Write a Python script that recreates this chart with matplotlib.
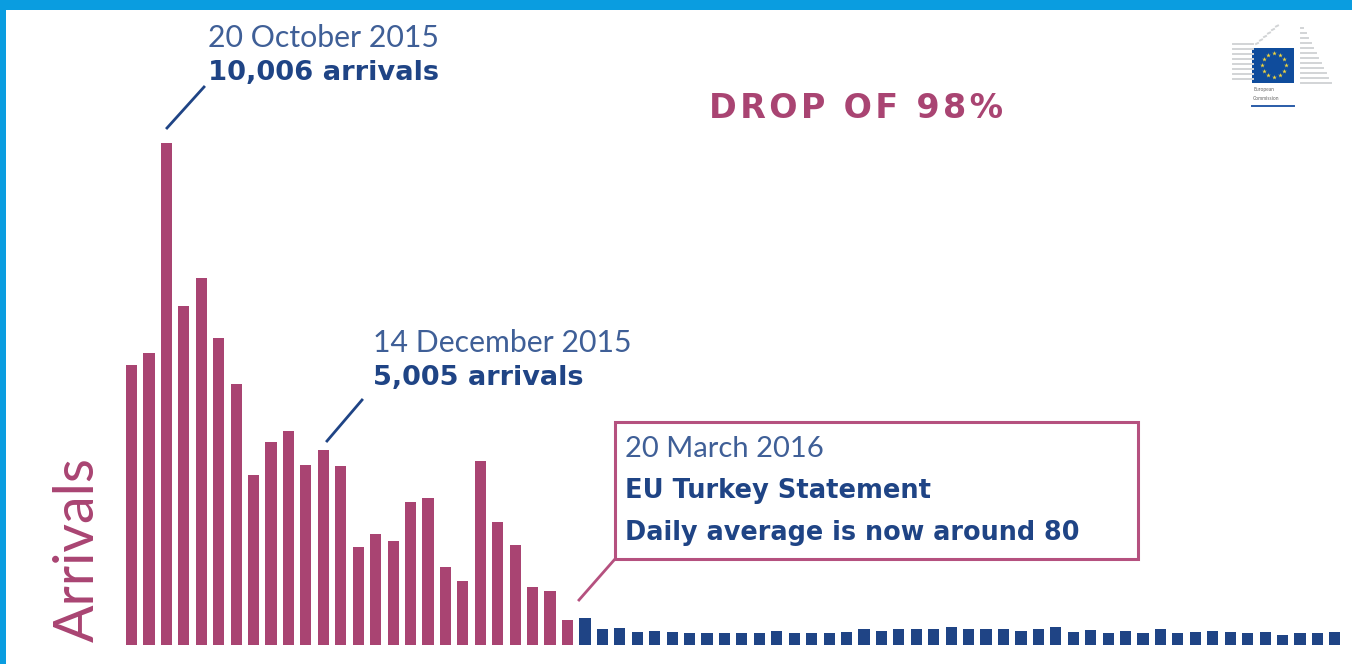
import matplotlib
matplotlib.use('Agg')
import matplotlib.pyplot as plt
from matplotlib.patches import Rectangle
import numpy as np

plt.rcParams['font.family'] = ['Lato', 'DejaVu Sans']

W, H = 1352, 664

# arrivals per week
before = [5590, 5830, 10006, 6750, 7320, 6120, 5210, 3390, 4050, 4270, 3590, 3880, 3570,
          1950, 2220, 2080, 2860, 2940, 1560, 1270, 3670, 2460, 2000, 1150, 1070, 500]
after = [540, 320, 340, 260, 280, 260, 240, 240, 240, 240, 240, 280, 240, 240, 240, 260, 320,
         280, 320, 320, 320, 360, 320, 320, 320, 280, 320, 360, 260, 300, 240, 280, 240, 320,
         240, 260, 280, 260, 240, 260, 200, 240, 240, 260]

pink = '#A94472'
blue = '#1F4485'
blue_light = '#3F5F97'
frame = '#0A9DE0'
bold_font = ['DejaVu Sans']

fig = plt.figure(figsize=(W / 100, H / 100), dpi=100, facecolor='white')


def px(x, y):
    # picture pixels to figure fraction
    return x / W, 1 - y / H


# frame
fig.add_artist(Rectangle((0, 1 - 10 / H), 1, 10 / H, transform=fig.transFigure, color=frame, lw=0))
fig.add_artist(Rectangle((0, 0), 6 / W, 1, transform=fig.transFigure, color=frame, lw=0))

# bars
step = 17.44
x0 = 131.5
left, right = 122, 1345
ax = fig.add_axes([left / W, 1 - 645 / H, (right - left) / W, 502 / H])
ax.set_xlim((left - x0) / step, (right - x0) / step)
ax.set_ylim(0, 10006)
ax.axis('off')
xs = np.arange(len(before) + len(after))
ax.bar(xs[:len(before)], before, width=0.64, color=pink)
ax.bar(xs[len(before):], after, width=0.64, color=blue)


def label(x, y, s, **kw):
    fx, fy = px(x, y)
    fig.text(fx, fy, s, va='center', ha='left', **kw)


def leader(x1, y1, x2, y2, color, lw=2):
    a, b = px(x1, y1), px(x2, y2)
    fig.add_artist(plt.Line2D([a[0], b[0]], [a[1], b[1]], color=color, lw=lw))


label(208, 38, '20 October 2015', fontsize=21.8, color=blue_light)
label(208, 73, '10,006 arrivals', fontsize=19.7, color=blue, fontweight='bold', family=bold_font)
leader(167, 128, 204, 87, blue)

label(373, 343, '14 December 2015', fontsize=21.8, color=blue_light)
label(373, 378, '5,005 arrivals', fontsize=19.5, color=blue, fontweight='bold', family=bold_font)
leader(327, 441, 362, 400, blue)

label(709, 108, 'D\u200aR\u200aO\u200aP\u2009 O\u200aF\u2009 9\u200a8\u200a%',
      fontsize=24, color=pink, fontweight='bold', family=bold_font)

# statement box
fig.add_artist(Rectangle(px(615, 559), 523 / W, 137 / H, transform=fig.transFigure,
                         fc='white', ec='#B5517F', lw=2.2))
leader(579, 600, 615, 559, '#B5517F')
label(625, 449, '20 March 2016', fontsize=21, color=blue_light)
label(625, 491, 'EU Turkey Statement', fontsize=18.5, color=blue, fontweight='bold', family=bold_font)
label(625, 533, 'Daily average is now around 80', fontsize=18.4, color=blue, fontweight='bold', family=bold_font)

fig.text(*px(78, 550), 'Arrivals', rotation=90, fontsize=40, color=pink, ha='center', va='center')

# logo
grey = '#D2D4D6'
for y in np.arange(44, 84, 5):
    leader(1233, y, 1253, y, grey, 1.4)
for y in np.arange(28, 84, 5):
    leader(1301, y, 1301 + (y - 24) * 0.5, y, grey, 1.4)
for k in range(6):
    leader(1256 + k * 4, 44 - k * 3.5, 1258 + k * 4, 43 - k * 3.5, grey, 1.4)
fig.add_artist(Rectangle(px(1252, 83), 42 / W, 35 / H, transform=fig.transFigure, color='#0F4C9C', lw=0))
for t in np.arange(0, 360, 30):
    cx, cy = px(1274 + 12 * np.cos(np.radians(t)), 65 + 12 * np.sin(np.radians(t)))
    fig.add_artist(plt.Line2D([cx], [cy], marker='*', ms=3.5, color='#F2D53C', mew=0))
leader(1252, 106, 1294, 106, '#2A5CA8', 1.4)
fig.text(*px(1253, 90), 'European', fontsize=3.5, color='#666666', va='center')
fig.text(*px(1253, 98), 'Commission', fontsize=3.5, color='#666666', va='center')

fig.savefig('out.png', dpi=100)
